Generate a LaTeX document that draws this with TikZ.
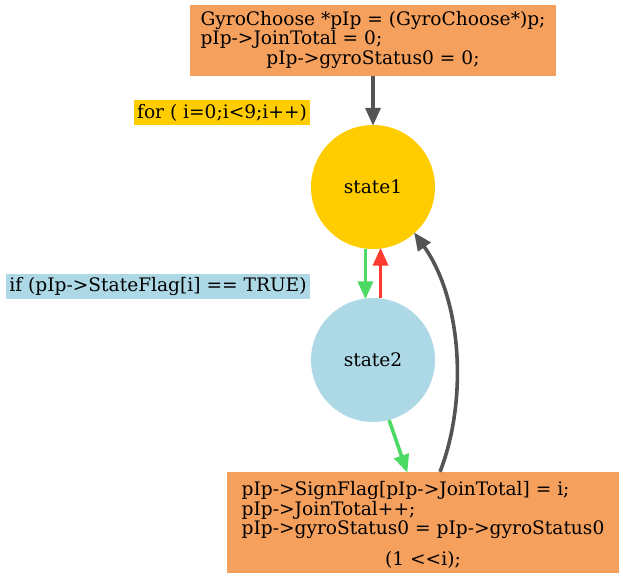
\documentclass[tikz,border=0pt]{standalone}
\usepackage{fontspec}
\setmainfont{DejaVu Serif}
\usetikzlibrary{arrows.meta}
\definecolor{boxorange}{HTML}{F6A05E}
\definecolor{stgold}{HTML}{FFCC00}
\definecolor{stblue}{HTML}{ADD8E6}
\definecolor{edgegray}{HTML}{545454}
\definecolor{edgegreen}{HTML}{4CD964}
\definecolor{edgered}{HTML}{FF3B30}
\tikzset{
  codebox/.style={fill=boxorange, inner sep=0pt, font=\fontsize{18.6}{19}\selectfont},
  lbl/.style={inner sep=0pt, font=\fontsize{18.6}{19}\selectfont},
  state/.style={circle, inner sep=0pt, minimum size=124pt, font=\fontsize{18.6}{19}\selectfont},
  conn/.style={line width=3.6pt, -{Triangle[length=18pt,width=15pt]}, shorten >=-1pt}
}
\begin{document}
\begin{tikzpicture}[x=1pt,y=-1pt]
\useasboundingbox (0,0) rectangle (623,580);
\node[codebox, minimum width=366pt, minimum height=71pt] (init) at (373,40.5)
  {\begin{tabular}{@{}l@{}}GyroChoose *pIp = (GyroChoose*)p;\\ pIp->JoinTotal = 0;\\ \multicolumn{1}{@{}c@{}}{pIp->gyroStatus0 = 0;}\end{tabular}};
\node[lbl, fill=stgold, minimum width=176pt, minimum height=25pt] (forlbl) at (222,112.5) {for ( i=0;i<9;i++)};
\node[state, fill=stgold] (s1) at (373,187) {state1};
\node[lbl, fill=stblue, minimum width=304pt, minimum height=25pt] (iflbl) at (158,286.5) {if (pIp->StateFlag[i] == TRUE)};
\node[state, fill=stblue] (s2) at (373,360) {state2};
\node[codebox, minimum width=392pt, minimum height=101pt] (body) at (423,522.5)
  {\begin{tabular}{@{}l@{}}\rule{0pt}{22pt}pIp->SignFlag[pIp->JoinTotal] = i;\\ pIp->JoinTotal++;\\ pIp->gyroStatus0 = pIp->gyroStatus0\\[11pt] \multicolumn{1}{@{}c@{}}{(1 <{}<i);}\end{tabular}};
\draw[conn, edgegray] (init.south) -- (s1.north);
\draw[conn, edgegreen] (s1.-97) -- (s2.97);
\draw[conn, edgered] (s2.83) -- (s1.-83);
\draw[conn, edgegreen] (s2.-75) -- ([xshift=-16pt]body.north);
\draw[conn, edgegray] ([xshift=17pt]body.north) .. controls (468,400) and (462,300) .. (s1.-48);
\end{tikzpicture}
\end{document}
